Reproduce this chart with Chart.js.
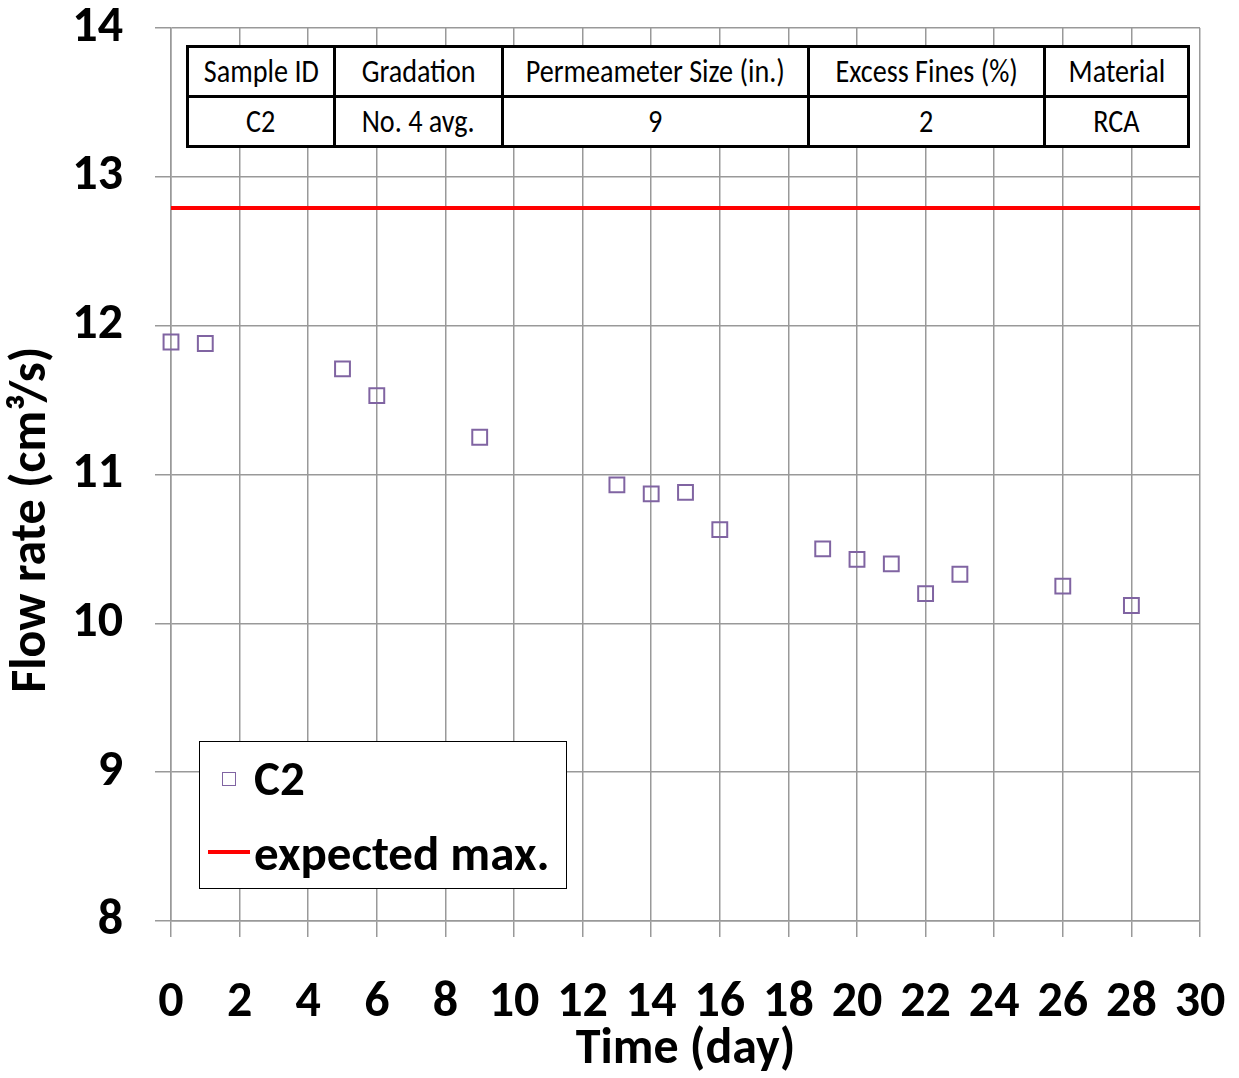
<!DOCTYPE html>
<html>
<head>
<meta charset="utf-8">
<script src="https://cdn.jsdelivr.net/npm/chart.js@4"></script>
<style>
  body { margin: 0; background: #fff; }
  #wrap { position: relative; width: 1239px; height: 1078px; }
  .fnt { font-family: Carlito, "Liberation Sans Narrow", "Liberation Sans", sans-serif; }
  #info {
    position: absolute; left: 186px; top: 45px; width: 1001px;
    border-collapse: collapse; table-layout: fixed; background: #fff; font-size: 32px; color: #000;
  }
  #info td { border: 3px solid #000; text-align: center; padding: 0; height: 47px; line-height: 1; overflow: hidden; white-space: nowrap; }
  #info td span { display: inline-block; transform: scaleX(0.88); }
  #leg {
    position: absolute; left: 199px; top: 741px; width: 366px; height: 146px;
    border: 1.5px solid #000; background: #fff; font-weight: bold; font-size: 49px; color: #000;
  }
  #leg .row { position: absolute; left: 0; height: 50px; line-height: 50px; }
  #leg .sq { position: absolute; left: 22px; top: 30px; width: 12px; height: 12px; border: 1.5px solid #8064A2; }
  #leg .ln { position: absolute; left: 8px; top: 108px; width: 42px; height: 4px; background: #ff0000; }
</style>
</head>
<body>
<div id="wrap">
  <canvas id="grafico"></canvas>
  <table id="info" class="fnt">
    <colgroup><col style="width:147px"><col style="width:168px"><col style="width:306px"><col style="width:236px"><col style="width:144px"></colgroup>
    <tr><td><span>Sample ID</span></td><td><span>Gradation</span></td><td><span>Permeameter Size (in.)</span></td><td><span>Excess Fines (%)</span></td><td><span>Material</span></td></tr>
    <tr><td><span>C2</span></td><td><span>No. 4 avg.</span></td><td><span>9</span></td><td><span>2</span></td><td><span>RCA</span></td></tr>
  </table>
  <div id="leg" class="fnt">
    <div class="sq"></div>
    <div class="row" style="top:11px; left:54px">C2</div>
    <div class="ln"></div>
    <div class="row" style="top:86px; left:54px">expected max.</div>
  </div>
</div>
<script>
const dias = [0, 1, 5, 6, 9, 13, 14, 15, 16, 19, 20, 21, 22, 23, 26, 28];
const caudalC2 = [11.89, 11.88, 11.71, 11.53, 11.25, 10.93, 10.87, 10.88, 10.63, 10.50, 10.43, 10.40, 10.20, 10.33, 10.25, 10.12];
const maxEsperado = 12.79;
const rangoX = [0, 30];
const rangoY = [8, 14];

const fuente = 'Carlito, "Liberation Sans Narrow", "Liberation Sans", sans-serif';
const gris = '#999999';

// quita el relleno automatico que Chart.js agrega por las etiquetas
function ajustar(s, tam) {
  if (s.isHorizontal()) s.height = tam; else s.width = tam;
  s.paddingTop = 0; s.paddingBottom = 0; s.paddingLeft = 0; s.paddingRight = 0;
}

new Chart(document.getElementById('grafico'), {
  type: 'scatter',
  data: {
    datasets: [
      {
        label: 'C2',
        data: dias.map((d, i) => ({ x: d, y: caudalC2[i] })),
        pointStyle: 'rect',
        pointRadius: 10.5,
        borderColor: '#8064A2',
        borderWidth: 2,
        backgroundColor: 'rgba(0,0,0,0)',
        showLine: false,
        clip: false
      },
      {
        label: 'expected max.',
        data: rangoX.map(x => ({ x: x, y: maxEsperado })),
        borderColor: '#ff0000',
        borderWidth: 4,
        pointRadius: 0,
        showLine: true
      }
    ]
  },
  options: {
    responsive: true,
    maintainAspectRatio: false,
    animation: false,
    layout: { padding: { top: 28, right: 39, left: 0, bottom: 0 } },
    plugins: { legend: { display: false }, tooltip: { enabled: false } },
    scales: {
      x: {
        type: 'linear', min: rangoX[0], max: rangoX[1],
        afterFit: s => ajustar(s, 157),
        ticks: { stepSize: 2, color: '#000', padding: 36, font: { family: fuente, size: 50, weight: 'bold' } },
        grid: { color: gris, lineWidth: 1.5, tickLength: 16 },
        border: { color: gris, width: 1.5 },
        title: { display: true, text: 'Time (day)', color: '#000', padding: { top: 0, bottom: 0 }, font: { family: fuente, size: 50, weight: 'bold', lineHeight: 1.1 } }
      },
      y: {
        type: 'linear', min: rangoY[0], max: rangoY[1],
        afterFit: s => ajustar(s, 171),
        ticks: { stepSize: 1, color: '#000', padding: 32, font: { family: fuente, size: 50, weight: 'bold' } },
        grid: { color: gris, lineWidth: 1.5, tickLength: 16 },
        border: { color: gris, width: 1.5 },
        title: { display: true, text: 'Flow rate (cm³/s)        ', color: '#000', padding: { top: 2, bottom: 0 }, font: { family: fuente, size: 50, weight: 'bold' } }
      }
    }
  }
});
</script>
</body>
</html>
